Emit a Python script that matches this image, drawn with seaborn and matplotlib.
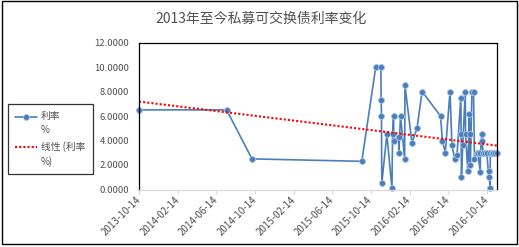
import matplotlib
matplotlib.use('Agg')
import matplotlib.pyplot as plt
import matplotlib.dates as mdates
import numpy as np
import pandas as pd
import seaborn as sns
from matplotlib.lines import Line2D
from matplotlib.patches import Rectangle

title = "2013年至今私募可交换债利率变化"
series_label = "利率\n%"
trend_label = "线性 (利率\n%)"

dates = [
    "2013-10-14", "2014-07-17", "2014-10-05", "2015-09-16", "2015-10-30",
    "2015-11-15", "2015-11-16", "2015-11-17", "2015-11-18", "2015-12-04",
    "2015-12-20", "2015-12-22", "2015-12-25", "2015-12-26", "2016-01-10",
    "2016-01-11", "2016-01-16", "2016-01-29", "2016-01-30", "2016-02-21",
    "2016-03-08", "2016-03-24", "2016-05-21", "2016-05-27", "2016-06-05",
    "2016-06-20", "2016-06-26", "2016-07-05", "2016-07-12", "2016-07-24",
    "2016-07-25", "2016-07-26", "2016-07-30", "2016-08-07", "2016-08-08",
    "2016-08-15", "2016-08-20", "2016-08-21", "2016-08-23", "2016-08-28",
    "2016-09-02", "2016-09-05", "2016-09-12", "2016-09-16", "2016-09-23",
    "2016-09-24", "2016-09-28", "2016-09-29", "2016-10-02", "2016-10-08",
    "2016-10-14", "2016-10-20", "2016-10-21", "2016-10-24", "2016-10-25",
    "2016-10-30", "2016-11-03", "2016-11-09", "2016-11-15",
]
rates = [
    6.5, 6.5, 2.5, 2.3, 10.0,
    10.0, 7.3, 6.0, 0.5, 4.5,
    0.1, 4.5, 6.0, 4.0, 4.3,
    3.0, 6.0, 2.5, 8.5, 3.8,
    5.0, 8.0, 6.0, 4.0, 3.0,
    8.0, 3.6, 2.5, 2.8, 7.5,
    4.5, 1.0, 3.6, 8.0, 4.5,
    1.5, 6.2, 4.5, 2.0, 8.0,
    8.0, 2.5, 3.0, 3.0, 1.4,
    3.0, 4.5, 4.0, 3.0, 3.0,
    3.0, 1.0, 1.5, 0.1, 3.0,
    3.0, 3.0, 3.0, 3.0,
]

x_tick_labels = ["2013-10-14", "2014-02-14", "2014-06-14", "2014-10-14",
                 "2015-02-14", "2015-06-14", "2015-10-14", "2016-02-14",
                 "2016-06-14", "2016-10-14"]
y_ticks = [0, 2, 4, 6, 8, 10, 12]

sns.set_theme(style='white')
plt.rcParams['font.family'] = ['Noto Sans CJK SC', 'DejaVu Sans']

W, H = 519, 247
fig = plt.figure(figsize=(W / 100, H / 100), dpi=100)
fig.patch.set_facecolor('white')
ax = fig.add_axes([139 / W, 1 - 189.5 / H, (497 - 139) / W, (189.5 - 42.5) / H])

df = pd.DataFrame({'date': pd.to_datetime(dates), 'rate': rates})
df['x'] = mdates.date2num(df['date'])

line_color = '#4a7ebb'
sns.lineplot(data=df, x='x', y='rate', estimator=None, sort=False, ax=ax,
             color=line_color, lw=1.2, marker='o', markersize=4.3,
             markeredgecolor='#a9c2e4', markeredgewidth=0.6, clip_on=False,
             legend=False)
sns.regplot(data=df, x='x', y='rate', scatter=False, ci=None, ax=ax,
            truncate=True,
            line_kws=dict(color='#ff0000', lw=1.5, ls=(0, (1, 1))))

ax.set_xlim(df['x'].iloc[0], df['x'].iloc[-1])
ax.set_ylim(0, 12)
ax.set_xlabel('')
ax.set_ylabel('')

tick_x = mdates.date2num(pd.to_datetime(x_tick_labels))
ax.set_xticks(tick_x)
ax.set_xticklabels(x_tick_labels, rotation=45, ha='right', va='center',
                   rotation_mode='anchor', fontsize=7, color='#505050')
ax.set_yticks(y_ticks)
ax.set_yticklabels([f"{v:.4f}" for v in y_ticks], fontsize=6.8, color='#505050')
ax.tick_params(axis='x', length=3, width=0.8, color='#d9d9d9', direction='out', pad=3, bottom=True)
ax.tick_params(axis='y', length=0, pad=7)

for s in ['top', 'left', 'right']:
    ax.spines[s].set_color('black')
    ax.spines[s].set_linewidth(0.9)
ax.spines['bottom'].set_color('#d9d9d9')
ax.spines['bottom'].set_linewidth(0.9)
ax.grid(False)

fig.text(261 / W, 1 - 18.5 / H, title, ha='center', va='center',
         fontsize=10, color='#505050')

h1 = Line2D([], [], color=line_color, lw=1.2, marker='o', markersize=4.3,
            markeredgecolor='#a9c2e4', markeredgewidth=0.6)
h2 = Line2D([], [], color='#ff0000', lw=1.5, ls=(0, (1, 1)))
leg = fig.legend(handles=[h1, h2], labels=[series_label, trend_label],
                 loc='upper left', bbox_to_anchor=(7.5 / W, 1 - 104 / H),
                 bbox_transform=fig.transFigure, borderaxespad=0,
                 frameon=True, fancybox=False, edgecolor='black',
                 fontsize=7, labelcolor='#505050', handlelength=2.3,
                 handletextpad=0.4, labelspacing=0.6, borderpad=0.75)
leg.get_frame().set_linewidth(0.9)
for t in leg.get_texts():
    t.set_linespacing(1.45)
for hd in leg.legend_handles:
    yd = np.asarray(hd.get_ydata(), dtype=float)
    hd.set_ydata(yd + 4.9)

fig.patches.append(Rectangle((1.5 / W, 1 - 244 / H), (517 - 1.5) / W, (244 - 1.5) / H,
                             transform=fig.transFigure, fill=False,
                             edgecolor='black', lw=1.0))

fig.savefig('out.png', dpi=100, facecolor='white')
